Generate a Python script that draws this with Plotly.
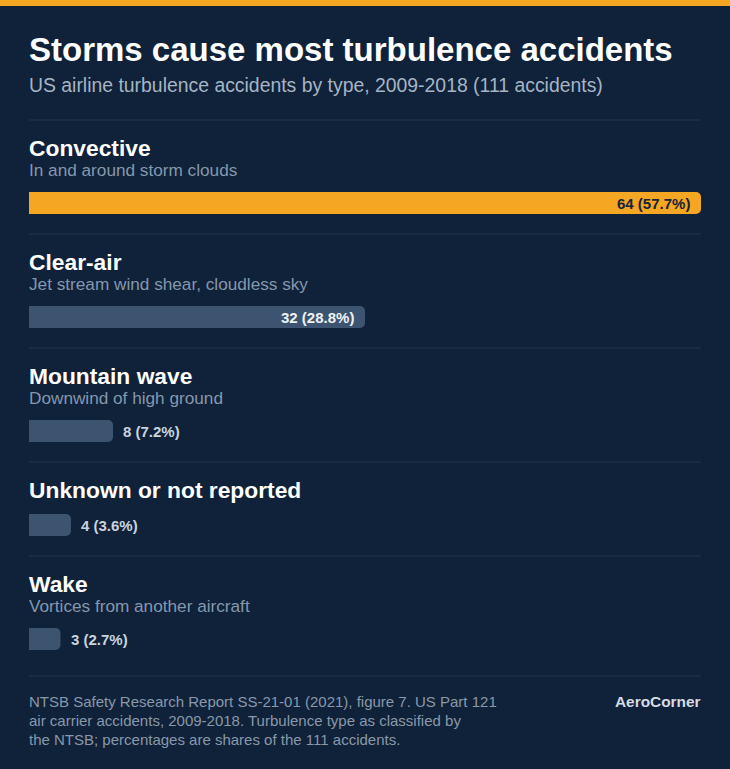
import plotly.graph_objects as go

# ---- data ----
categories = ["Convective", "Clear-air", "Mountain wave", "Unknown or not reported", "Wake"]
descriptions = ["In and around storm clouds", "Jet stream wind shear, cloudless sky",
                "Downwind of high ground", "", "Vortices from another aircraft"]
accidents = [64, 32, 8, 4, 3]
total = 111
shares = [57.7, 28.8, 7.2, 3.6, 2.7]
title = "Storms cause most turbulence accidents"
subtitle = "US airline turbulence accidents by type, 2009-2018 (111 accidents)"
footer_lines = [
    "NTSB Safety Research Report SS-21-01 (2021), figure 7. US Part 121",
    "air carrier accidents, 2009-2018. Turbulence type as classified by",
    "the NTSB; percentages are shares of the 111 accidents.",
]
brand = "AeroCorner"

# ---- style / layout ----
W, H = 730, 769
BG = "#0f2239"
ORANGE = "#f5a623"
BAR = "#3c5470"
SEP = "#22354d"
X0, X1 = 29, 701
FONT = "Liberation Sans, Arial, Helvetica, sans-serif"
LS = -2  # annotation text inset compensation

# row layout in pixel units (y axis maps 1:1 to pixels)
row_tops = []
y = 120
for d in descriptions:
    row_tops.append(y)
    y += 114 if d else 94
bar_y, label_y, desc_y = [], [], []
for top, d in zip(row_tops, descriptions):
    label_y.append(top + 28)
    desc_y.append(top + 50)
    bar_y.append(top + (83 if d else 63))
bottom_sep = bar_y[-1] + 11 + 26

colors = [ORANGE if i == 0 else BAR for i in range(len(accidents))]

fig = go.Figure()
fig.add_trace(go.Bar(
    x=accidents, y=bar_y, orientation="h", width=22,
    marker=dict(color=colors, line=dict(width=0), cornerradius=5),
    cliponaxis=False, hoverinfo="skip",
))

shapes = [dict(type="rect", xref="paper", yref="paper", x0=0, x1=1, y0=1 - 6 / H, y1=1,
               fillcolor=ORANGE, line=dict(width=0), layer="above")]
for yy in row_tops + [bottom_sep]:
    shapes.append(dict(type="line", xref="paper", yref="y", x0=X0 / W, x1=X1 / W, y0=yy, y1=yy,
                       line=dict(color=SEP, width=1)))

annotations = [
    dict(text=f"<b>{title}</b>", x=X0 / W, y=49, xref="paper", yref="y", xshift=LS,
         xanchor="left", yanchor="middle", showarrow=False,
         font=dict(family=FONT, size=33, color="#ffffff")),
    dict(text=subtitle, x=X0 / W, y=85, xshift=LS,
         xref="paper", yref="y", xanchor="left", yanchor="middle", showarrow=False,
         font=dict(family=FONT, size=19.4, color="#a6b4c4")),
]
for c, d, ly, dy in zip(categories, descriptions, label_y, desc_y):
    annotations.append(dict(text=f"<b>{c}</b>", x=X0 / W, y=ly, xref="paper", yref="y", xshift=LS,
                            xanchor="left", yanchor="middle", showarrow=False,
                            font=dict(family=FONT, size=22.8, color="#ffffff")))
    if d:
        annotations.append(dict(text=d, x=X0 / W, y=dy, xref="paper", yref="y", xshift=LS,
                                xanchor="left", yanchor="middle", showarrow=False,
                                font=dict(family=FONT, size=17.2, color="#8597ad")))

# value labels
for i, (v, s, by) in enumerate(zip(accidents, shares, bar_y)):
    inside = v >= 20
    if i == 0:
        col = "#16243b"
    elif inside:
        col = "#eef2f6"
    else:
        col = "#c9d3de"
    annotations.append(dict(text=f"<b>{v} ({s:.1f}%)</b>", x=v, y=by, xref="x", yref="y",
                            xanchor="right" if inside else "left", yanchor="middle",
                            xshift=-9 if inside else 8, showarrow=False,
                            font=dict(family=FONT, size=15, color=col)))

for k, line in enumerate(footer_lines):
    annotations.append(dict(text=line, x=X0 / W, y=701 + 19 * k, xref="paper", yref="y", xshift=LS,
                            xanchor="left", yanchor="middle", showarrow=False,
                            font=dict(family=FONT, size=15, color="#8a98aa")))
annotations.append(dict(text=f"<b>{brand}</b>", x=X1 / W, y=701, xref="paper", yref="y", xshift=2,
                        xanchor="right", yanchor="middle", showarrow=False,
                        font=dict(family=FONT, size=15.4, color="#d5dce5")))

fig.update_layout(
    width=W, height=H, margin=dict(l=0, r=0, t=0, b=0),
    paper_bgcolor=BG, plot_bgcolor=BG, showlegend=False,
    xaxis=dict(domain=[X0 / W, X1 / W], range=[0, max(accidents)], visible=False, fixedrange=True),
    yaxis=dict(domain=[0, 1], range=[H, 0], visible=False, fixedrange=True),
    shapes=shapes, annotations=annotations,
)

fig.write_html("out.html", config={"displayModeBar": False},
               post_script="document.body.style.margin='0';document.body.style.background='%s';" % BG)
